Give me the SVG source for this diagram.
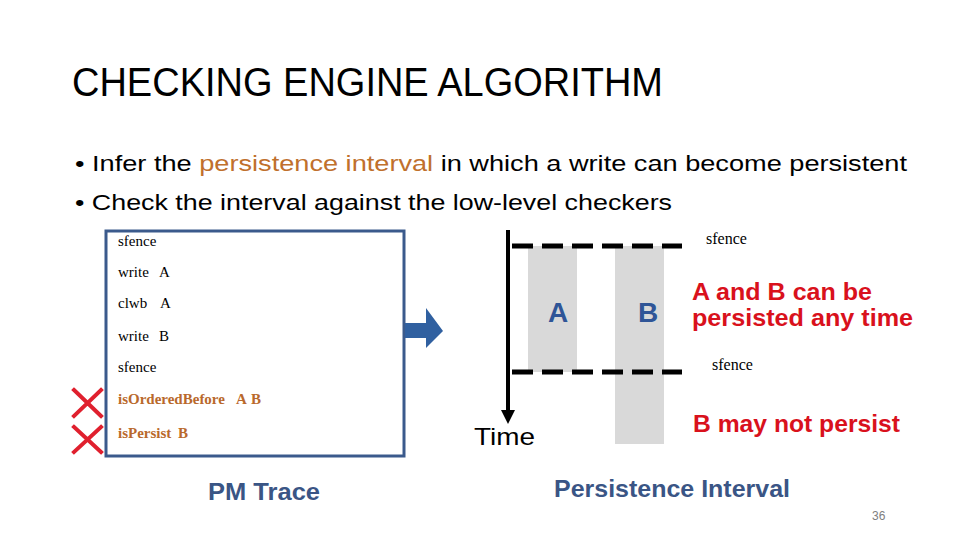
<svg xmlns="http://www.w3.org/2000/svg" width="960" height="540" viewBox="0 0 960 540">
<style>
.sans{font-family:"Liberation Sans",Arial,sans-serif}
.serif{font-family:"Liberation Serif","Times New Roman",serif}
.tr{font-size:15px;fill:#000}
.chk{font-size:15px;fill:#b9692c;font-weight:bold}
.red{font-size:24px;fill:#d9111c;font-weight:bold}
.cap{font-size:24px;fill:#3a5585;font-weight:bold}
.dash{stroke:#000;stroke-width:5;stroke-dasharray:21 9}
.x{stroke:#e0202e;stroke-width:4;stroke-linecap:square}
</style>
<rect width="960" height="540" fill="#fff"/>
<g id="title"><text class="sans" x="72" y="96" font-size="40" textLength="591" lengthAdjust="spacingAndGlyphs">CHECKING ENGINE ALGORITHM</text></g>
<g id="bullets" class="sans" font-size="22">
<text x="75" y="171" textLength="832" lengthAdjust="spacingAndGlyphs">• Infer the <tspan fill="#c0702c">persistence interval</tspan> in which a write can become persistent</text>
<text x="75" y="210" textLength="597" lengthAdjust="spacingAndGlyphs">• Check the interval against the low-level checkers</text>
</g>
<g id="trace">
<rect x="106" y="231" width="298" height="225" fill="#fff" stroke="#3b5a8c" stroke-width="3"/>
<text class="serif tr" x="118" y="246">sfence</text>
<text class="serif tr" x="118" y="277">write <tspan x="159">A</tspan></text>
<text class="serif tr" x="118" y="308">clwb <tspan x="160">A</tspan></text>
<text class="serif tr" x="118" y="341">write <tspan x="159">B</tspan></text>
<text class="serif tr" x="118" y="372">sfence</text>
<text class="serif chk" x="118" y="404">isOrderedBefore <tspan x="236">A</tspan> <tspan x="251">B</tspan></text>
<text class="serif chk" x="118" y="438">isPersist <tspan x="178">B</tspan></text>
</g>
<g id="marks">
<path class="x" d="M74 390 L101 416 M101 390 L74 416"/>
<path class="x" d="M74 427 L101 452 M101 427 L74 452"/>
</g>
<g id="connectors">
<path d="M405 323 H426 V308 L443 331 L426 348 V338 H405 Z" fill="#3060a0"/>
<line x1="508" y1="230" x2="508" y2="412" stroke="#000" stroke-width="4"/>
<path d="M501 410 L515 410 L508 424 Z" fill="#000"/>
</g>
<g id="intervalA"><rect x="528" y="246" width="49" height="126" fill="#d9d9d9"/>
<text class="sans" x="558" y="322" font-size="28" font-weight="bold" fill="#2f5597" text-anchor="middle">A</text></g>
<g id="intervalB"><rect x="615" y="246" width="49" height="198" fill="#d9d9d9"/>
<text class="sans" x="648" y="322" font-size="28" font-weight="bold" fill="#2f5597" text-anchor="middle">B</text></g>
<g id="fences">
<line class="dash" x1="512" y1="246" x2="682" y2="246"/>
<line class="dash" x1="512" y1="372" x2="682" y2="372"/>
<text class="serif" x="706" y="244" font-size="16">sfence</text>
<text class="serif" x="712" y="370" font-size="16">sfence</text>
</g>
<g id="notes">
<text class="sans red" x="692" y="300" textLength="180" lengthAdjust="spacingAndGlyphs">A and B can be</text>
<text class="sans red" x="692" y="326" textLength="221" lengthAdjust="spacingAndGlyphs">persisted any time</text>
<text class="sans red" x="693" y="432" textLength="207" lengthAdjust="spacingAndGlyphs">B may not persist</text>
<text class="sans" x="474" y="445" font-size="24" textLength="61" lengthAdjust="spacingAndGlyphs">Time</text>
</g>
<g id="captions">
<text class="sans cap" x="208" y="500" textLength="112" lengthAdjust="spacingAndGlyphs">PM Trace</text>
<text class="sans cap" x="554" y="497" textLength="236" lengthAdjust="spacingAndGlyphs">Persistence Interval</text>
<text class="sans" x="872" y="520" font-size="12" fill="#808080">36</text>
</g>
</svg>
